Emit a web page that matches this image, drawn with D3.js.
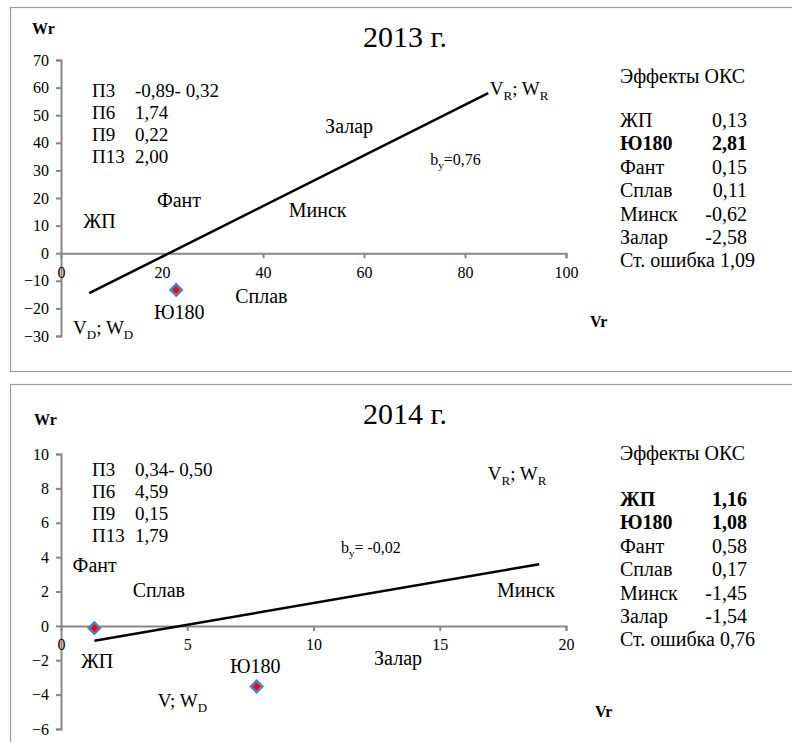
<!DOCTYPE html>
<html>
<head>
<meta charset="utf-8">
<script src="https://cdn.jsdelivr.net/npm/d3@7/dist/d3.min.js"></script>
<style>
  body { margin: 0; background: #fff; }
</style>
</head>
<body>
<div id="chart"></div>
<script>
// ===== data =====
var years = ["2013 г.", "2014 г."];

// regression line ends and marked points
var line2013 = [{x:5.6,y:-14.5},{x:84.6,y:58}];
var line2014 = [{x:1.32,y:-0.87},{x:18.94,y:3.59}];
var points2013 = [{x:22.8,y:-13.3}];
var points2014 = [{x:1.32,y:-0.13},{x:7.75,y:-3.53}];

var xTicks2013 = [0,20,40,60,80,100];
var yTicks2013 = [-30,-20,-10,0,10,20,30,40,50,60,70];
var xTicks2014 = [0,5,10,15,20];
var yTicks2014 = [-6,-4,-2,0,2,4,6,8,10];

// genotype labels, placed at data coordinates
var labelNames = ["Залар","Фант","Минск","ЖП","Сплав","Ю180"];
var labelPos2013 = [[52.3,43.6],[19.0,16.7],[45.1,13.1],[4.4,9.1],[34.5,-18.0],[18.4,-23.8]];
var labelPos2014 = [[12.4,-2.27],[0.46,3.13],[17.27,1.68],[0.79,-2.45],[2.84,1.68],[6.69,-2.74]];

var params = ["П3","П6","П9","П13"];
var params2013 = ["-0,89- 0,32","1,74","0,22","2,00"];
var params2014 = ["0,34- 0,50","4,59","0,15","1,79"];

var effNames = ["ЖП","Ю180","Фант","Сплав","Минск","Залар"];
var eff2013 = ["0,13","2,81","0,15","0,11","-0,62","-2,58"];
var eff2014 = ["1,16","1,08","0,58","0,17","-1,45","-1,54"];
var bold2013 = ["Ю180"];
var bold2014 = ["ЖП","Ю180"];
var stErr2013 = "1,09";
var stErr2014 = "0,76";

var slope2013 = "=0,76";
var slope2014 = "= -0,02";

var FONT = "Liberation Serif";

var svg = d3.select("#chart")
    .append("svg")
    .attr("width", 792)
    .attr("height", 742)
    .attr("font-family", FONT)

function txt(g, s, x, y, size){
    return g.append("text")
        .text(s)
        .attr("x", x)
        .attr("y", y)
        .attr("font-family", FONT)
        .attr("font-size", size + "px")
        .attr("fill", "#000")
}

function richText(g, parts, x, y, size){
    var t = g.append("text")
        .attr("x", x)
        .attr("y", y)
        .attr("font-family", FONT)
        .attr("font-size", size + "px")
    parts.forEach(function(p, i){
        if (p[1] == "sub") {
            t.append("tspan").text(p[0])
                .attr("font-size", Math.round(size*0.68) + "px")
                .attr("dy", size*0.25)
        } else {
            var s = t.append("tspan").text(p[0])
            if (i > 0) s.attr("dy", -size*0.25)
        }
    })
    return t
}

function drawPanel(cfg){
    var g = svg.append("g").attr("transform", "translate(0," + cfg.top + ")")

    // frame
    g.append("rect")
        .attr("x", 10.5).attr("y", 7.5)
        .attr("width", 800).attr("height", 364)
        .attr("fill", "none")
        .attr("stroke", "#9a9a9a")
        .attr("stroke-width", 1.2)

    var x = d3.scaleLinear().domain(cfg.xDomain).range([61, 566])
    var y = d3.scaleLinear().domain(cfg.yDomain).range(cfg.yRange)

    var yAxis = g.append("g")
        .attr("transform", "translate(61,0)")
        .call(d3.axisLeft(y).tickValues(cfg.yTicks).tickSize(5).tickPadding(7).tickFormat(d3.format("d")))
    var xAxis = g.append("g")
        .attr("transform", "translate(0," + y(0) + ")")
        .call(d3.axisBottom(x).tickValues(cfg.xTicks).tickSize(5).tickPadding(8).tickFormat(d3.format("d")))

    ;[yAxis, xAxis].forEach(function(a){
        a.attr("font-family", FONT)
        a.selectAll("path, line").attr("stroke", "#878787").attr("stroke-width", 2)
        a.selectAll("text").attr("font-size", "16px").attr("fill", "#000")
            .attr("font-family", FONT)
    })
    xAxis.selectAll(".tick").filter(function(d){ return d == 0 }).select("line").remove()

    // regression line
    g.append("path")
        .datum(cfg.line)
        .attr("d", d3.line().x(function(d){ return x(d.x) }).y(function(d){ return y(d.y) }))
        .attr("stroke", "#000")
        .attr("stroke-width", 2.5)
        .attr("fill", "none")

    // points (diamond markers)
    g.selectAll(".pt")
        .data(cfg.points)
        .enter()
        .append("path")
        .attr("d", d3.symbol().type(d3.symbolSquare).size(64))
        .attr("transform", function(d){ return "translate(" + x(d.x) + "," + y(d.y) + ") rotate(45)" })
        .attr("fill", "#ff0000")
        .attr("stroke", "#4f81bd")
        .attr("stroke-width", 2.5)

    // genotype labels
    labelNames.forEach(function(n, i){
        txt(g, n, x(cfg.labelPos[i][0]), y(cfg.labelPos[i][1]), 20)
    })

    richText(g, [["V",""],["R","sub"],["; W",""],["R","sub"]], x(cfg.rPos[0]), y(cfg.rPos[1]), 19)
    richText(g, cfg.dParts, x(cfg.dPos[0]), y(cfg.dPos[1]), 19)
    richText(g, [["b",""],["y","sub"],[cfg.slope,""]], x(cfg.bPos[0]), y(cfg.bPos[1]), 16)

    // title and axis names
    txt(g, cfg.title, 405, 47, 30).attr("text-anchor", "middle")
    txt(g, "Wr", cfg.wrPos[0], cfg.wrPos[1], 16).attr("font-weight", "bold")
    txt(g, "Vr", cfg.vrPos[0], cfg.vrPos[1], 16).attr("font-weight", "bold")

    // parameter block
    params.forEach(function(p, i){
        var yy = cfg.paramTop + i*22
        txt(g, p, 92, yy, 19)
        txt(g, cfg.paramVals[i], 135, yy, 19)
    })

    // effects table
    txt(g, "Эффекты ОКС", 620, 83, 20)
    effNames.forEach(function(n, i){
        var yy = cfg.tableTop + i*23.4
        var bold = cfg.bold.indexOf(n) >= 0 ? "bold" : "normal"
        txt(g, n, 620, yy, 20).attr("font-weight", bold)
        txt(g, cfg.eff[i], 747, yy, 20)
            .attr("text-anchor", "end")
            .attr("font-weight", bold)
    })
    txt(g, "Ст. ошибка " + cfg.stErr, 620, cfg.tableTop + 6*23.4, 20)
}

drawPanel({
    top: 0, title: years[0],
    xDomain: [0,100], yDomain: [-30,70], yRange: [336, 60],
    xTicks: xTicks2013, yTicks: yTicks2013,
    line: line2013, points: points2013, labelPos: labelPos2013,
    rPos: [84.9,57.3], dPos: [2.4,-29.3], bPos: [73.1,32.0],
    dParts: [["V",""],["D","sub"],["; W",""],["D","sub"]],
    slope: slope2013,
    wrPos: [32,34], vrPos: [590,327],
    paramTop: 97, paramVals: params2013,
    tableTop: 127, eff: eff2013, bold: bold2013, stErr: stErr2013
})

drawPanel({
    top: 377, title: years[1],
    xDomain: [0,20], yDomain: [-6,10], yRange: [352, 77],
    xTicks: xTicks2014, yTicks: yTicks2014,
    line: line2014, points: points2014, labelPos: labelPos2014,
    rPos: [16.9,8.49], dPos: [3.83,-4.72], bPos: [11.09,4.24],
    dParts: [["V; W",""],["D","sub"]],
    slope: slope2014,
    wrPos: [34,48], vrPos: [595,340],
    paramTop: 99, paramVals: params2014,
    tableTop: 129, eff: eff2014, bold: bold2014, stErr: stErr2014
})
</script>
</body>
</html>
